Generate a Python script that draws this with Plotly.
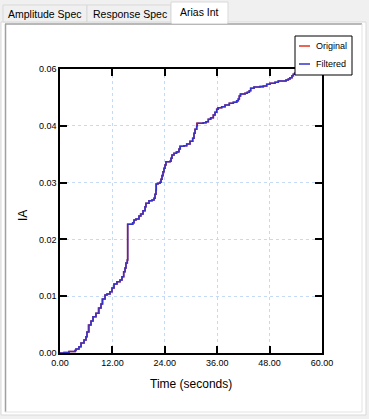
import plotly.graph_objects as go

# ---------------- data ----------------
time_filtered = [0.00, 0.92, 2.06, 3.44, 3.66, 4.35, 4.81, 5.50, 5.95, 6.18, 6.64, 7.10, 7.56, 8.24,
                 8.93, 9.39, 9.78, 10.31, 10.76, 11.45, 11.91, 12.37, 13.05, 13.74, 14.20, 14.59,
                 14.89, 15.11, 15.41, 15.50, 16.65, 16.95, 17.40, 18.09, 18.55, 19.01, 19.47, 19.69,
                 20.38, 21.07, 21.53, 21.76, 21.98, 22.05, 22.44, 22.90, 23.13, 23.36, 23.59, 23.82,
                 24.05, 24.27, 25.19, 25.42, 25.65, 26.11, 26.72, 27.02, 27.25, 27.55, 28.40, 29.02,
                 29.77, 30.39, 30.69, 30.92, 31.31, 31.44, 32.82, 33.44, 33.96, 34.51, 35.11, 35.50,
                 35.89, 36.25, 37.03, 37.79, 38.77, 39.69, 40.47, 40.83, 41.06, 41.38, 42.37, 42.89,
                 43.35, 43.67, 44.43, 45.80, 46.56, 47.34, 48.09, 49.24, 49.99, 51.76, 52.28, 52.67,
                 53.13, 53.43, 53.75, 54.96, 56.34, 57.71, 59.08, 60.00]
time_original = [0.00, 0.92, 2.06, 3.44, 3.66, 4.35, 4.81, 5.50, 5.95, 6.18, 6.50, 7.10, 7.56, 8.24,
                 8.80, 9.39, 9.65, 10.31, 10.76, 11.45, 11.91, 12.37, 13.05, 13.74, 14.20, 14.59,
                 14.89, 15.11, 15.41, 15.50, 16.65, 16.95, 17.40, 18.09, 18.45, 19.01, 19.47, 19.69,
                 20.38, 21.07, 21.53, 21.76, 21.98, 21.98, 22.44, 22.90, 23.13, 23.36, 23.59, 23.82,
                 24.05, 24.27, 25.19, 25.42, 25.65, 26.11, 26.60, 27.02, 27.25, 27.45, 28.40, 29.02,
                 29.77, 30.39, 30.69, 30.92, 31.31, 31.33, 32.82, 33.44, 33.96, 34.51, 35.11, 35.50,
                 35.89, 36.12, 37.03, 37.79, 38.77, 39.69, 40.47, 40.83, 41.06, 41.27, 42.37, 42.89,
                 43.35, 43.67, 44.43, 45.80, 46.56, 47.34, 48.09, 49.24, 49.99, 51.76, 52.28, 52.67,
                 53.13, 53.43, 53.75, 54.96, 56.34, 57.71, 59.08, 60.00]
ia_values = [0.00000, 0.00009, 0.00026, 0.00044, 0.00070, 0.00111, 0.00176, 0.00229, 0.00287, 0.00370,
             0.00493, 0.00563, 0.00639, 0.00699, 0.00792, 0.00863, 0.00951, 0.01021, 0.01039, 0.01079,
             0.01144, 0.01215, 0.01255, 0.01285, 0.01343, 0.01431, 0.01497, 0.01585, 0.01637, 0.02266,
             0.02294, 0.02342, 0.02359, 0.02412, 0.02447, 0.02505, 0.02576, 0.02636, 0.02681, 0.02694,
             0.02724, 0.02794, 0.02870, 0.02975, 0.02988, 0.03005, 0.03058, 0.03122, 0.03192, 0.03252,
             0.03310, 0.03368, 0.03375, 0.03428, 0.03486, 0.03516, 0.03539, 0.03544, 0.03592, 0.03639,
             0.03650, 0.03680, 0.03727, 0.03780, 0.03868, 0.03939, 0.03997, 0.04044, 0.04055, 0.04072,
             0.04115, 0.04143, 0.04190, 0.04238, 0.04291, 0.04319, 0.04336, 0.04366, 0.04396, 0.04414,
             0.04442, 0.04472, 0.04525, 0.04560, 0.04572, 0.04590, 0.04618, 0.04660, 0.04683, 0.04689,
             0.04701, 0.04731, 0.04748, 0.04766, 0.04789, 0.04806, 0.04824, 0.04847, 0.04882, 0.04907,
             0.04924, 0.04947, 0.04965, 0.04982, 0.04991, 0.05000]

x_tick_vals = [0, 12, 24, 36, 48, 60]
x_tick_text = ["0.00", "12.00", "24.00", "36.00", "48.00", "60.00"]
y_tick_vals = [0.0, 0.01, 0.02, 0.03, 0.04, 0.05]
y_tick_text = ["0.00", "0.01", "0.02", "0.03", "0.04", "0.06"]
tab_labels = ["Amplitude Spec", "Response Spec", "Arias Int"]
legend_labels = ["Original", "Filtered"]

# ---------------- layout helpers ----------------
W, H = 369, 419
L, R, T, B = 60, 322, 69, 353
FONT = "Liberation Sans"
RED = "#e4321e"
BLUE = "#3333cc"


def px(x):
    return (x - L) / (R - L)


def py(y):
    return (B - y) / (B - T)


fig = go.Figure()
fig.add_trace(go.Scatter(x=time_original, y=ia_values, mode="lines", line_shape="hv",
                         line=dict(color=RED, width=1.6), name=legend_labels[0], showlegend=False))
fig.add_trace(go.Scatter(x=time_filtered, y=ia_values, mode="lines", line_shape="hv",
                         line=dict(color=BLUE, width=1.6), name=legend_labels[1], showlegend=False))

shapes = []
annotations = []
# panel & tabs
shapes.append(dict(type="rect", xref="paper", yref="paper", x0=px(1), x1=px(366), y0=py(22), y1=py(415),
                   fillcolor="white", line=dict(color="#d9d9d9", width=1), layer="below"))
shapes.append(dict(type="line", xref="paper", yref="paper", x0=px(5), x1=px(362), y0=py(24), y1=py(24),
                   line=dict(color="#a0a0a0", width=1.5), layer="below"))
shapes.append(dict(type="line", xref="paper", yref="paper", x0=px(5.5), x1=px(5.5), y0=py(24), y1=py(412),
                   line=dict(color="#a0a0a0", width=1.5), layer="below"))
shapes.append(dict(type="line", xref="paper", yref="paper", x0=px(5), x1=px(362), y0=py(412), y1=py(412),
                   line=dict(color="#e3e3e3", width=1), layer="below"))
shapes.append(dict(type="line", xref="paper", yref="paper", x0=px(362), x1=px(362), y0=py(24), y1=py(412),
                   line=dict(color="#e3e3e3", width=1), layer="below"))
tab_boxes = [(3, 87, 5), (87, 171, 5), (171, 228, 2)]
tab_centers = [(45, 14), (129.5, 14), (199.5, 12)]
for i, (x0, x1, y0) in enumerate(tab_boxes):
    selected = i == 2
    shapes.append(dict(type="rect", xref="paper", yref="paper", x0=px(x0), x1=px(x1),
                       y0=py(23 if selected else 22), y1=py(y0),
                       fillcolor="white" if selected else "#f0f0f0",
                       line=dict(color="#d9d9d9", width=1), layer="below"))
    annotations.append(dict(xref="paper", yref="paper", x=px(tab_centers[i][0]), y=py(tab_centers[i][1]),
                            text=tab_labels[i], showarrow=False, xanchor="center", yanchor="middle",
                            font=dict(family=FONT, size=10.5, color="black")))
shapes.append(dict(type="line", xref="paper", yref="paper", x0=px(172), x1=px(227), y0=py(22.5), y1=py(22.5),
                   line=dict(color="white", width=2), layer="below"))

# legend box (drawn manually)
shapes.append(dict(type="rect", xref="paper", yref="paper", x0=px(295), x1=px(352), y0=py(75), y1=py(36),
                   fillcolor="white", line=dict(color="black", width=1), layer="above"))
for label, color, yy in [(legend_labels[0], RED, 46), (legend_labels[1], BLUE, 64)]:
    shapes.append(dict(type="line", xref="paper", yref="paper", x0=px(299), x1=px(310), y0=py(yy), y1=py(yy),
                       line=dict(color=color, width=1.5), layer="above"))
    annotations.append(dict(xref="paper", yref="paper", x=px(314), y=py(yy), text=label, showarrow=False,
                            xanchor="left", yanchor="middle", font=dict(family=FONT, size=9, color="black")))

# axis titles
annotations.append(dict(xref="paper", yref="paper", x=px(191), y=py(384), text="Time (seconds)",
                        showarrow=False, xanchor="center", yanchor="middle",
                        font=dict(family=FONT, size=12, color="black")))
annotations.append(dict(xref="paper", yref="paper", x=px(23), y=py(216), text="IA", textangle=-90,
                        showarrow=False, xanchor="center", yanchor="middle",
                        font=dict(family=FONT, size=12, color="black")))

axis_common = dict(showline=True, linecolor="black", linewidth=1.5, mirror="ticks", ticks="inside",
                   ticklen=7, tickwidth=1.5, tickcolor="black", showgrid=True, gridcolor="#c4daf7",
                   griddash="3px,3px", gridwidth=1, zeroline=False,
                   tickfont=dict(family=FONT, size=9, color="black"))

fig.update_layout(
    width=W, height=H,
    margin=dict(l=L, r=W - R, t=T, b=H - B, pad=0),
    paper_bgcolor="#f0f0f0", plot_bgcolor="white",
    showlegend=False,
    xaxis=dict(range=[0, 60], tickmode="array", tickvals=x_tick_vals, ticktext=x_tick_text, **axis_common),
    yaxis=dict(range=[0, 0.05], tickmode="array", tickvals=y_tick_vals, ticktext=y_tick_text, **axis_common),
    shapes=shapes, annotations=annotations,
)

fig.write_html("out.html")
